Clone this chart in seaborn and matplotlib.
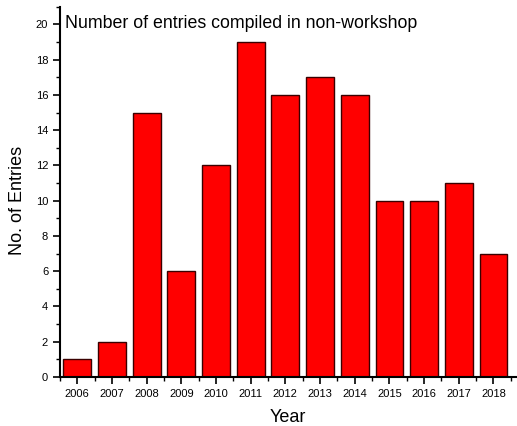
import matplotlib
matplotlib.use("Agg")
import matplotlib.pyplot as plt
import seaborn as sns
import pandas as pd
from matplotlib.ticker import MultipleLocator, FixedLocator

# Data
years = ["2006", "2007", "2008", "2009", "2010", "2011", "2012",
         "2013", "2014", "2015", "2016", "2017", "2018"]
entries = [1, 2, 15, 6, 12, 19, 16, 17, 16, 10, 10, 11, 7]

df = pd.DataFrame({"Year": years, "Entries": entries})

sns.set_style("ticks", {"text.color": "black", "axes.labelcolor": "black",
                        "xtick.color": "black", "ytick.color": "black"})
plt.rcParams["font.family"] = ["Liberation Sans", "DejaVu Sans"]

fig = plt.figure(figsize=(5.17, 4.26), dpi=100)
ax = fig.add_axes([0.116, 0.115, 0.882, 0.869])

sns.barplot(data=df, x="Year", y="Entries", color="#ff0000", saturation=1,
            width=0.8, edgecolor="#3a0000", linewidth=1.0, ax=ax)

ax.set_ylim(0, 21)
ax.set_xlim(-0.5, 12.65)
ax.yaxis.set_major_locator(MultipleLocator(2))
ax.yaxis.set_minor_locator(MultipleLocator(1))
ax.xaxis.set_minor_locator(FixedLocator([i + 0.5 for i in range(-1, 13)]))

ax.tick_params(axis="both", which="major", labelsize=8, length=5, width=1.2, direction="out", color="black")
ax.tick_params(axis="both", which="minor", length=3, width=1.0, direction="out", color="black")

for s in ["top", "right"]:
    ax.spines[s].set_visible(False)
for s in ["left", "bottom"]:
    ax.spines[s].set_linewidth(1.5)
    ax.spines[s].set_color("black")

ax.set_xlabel("Year", fontsize=13, labelpad=7)
ax.set_ylabel("No. of Entries", fontsize=13)
ax.yaxis.set_label_coords(-0.075, 0.476)
ax.text(0.01, 0.955, "Number of entries compiled in non-workshop", transform=ax.transAxes,
        fontsize=12.8, va="center", ha="left", color="black")

fig.savefig("out.png", dpi=100)
